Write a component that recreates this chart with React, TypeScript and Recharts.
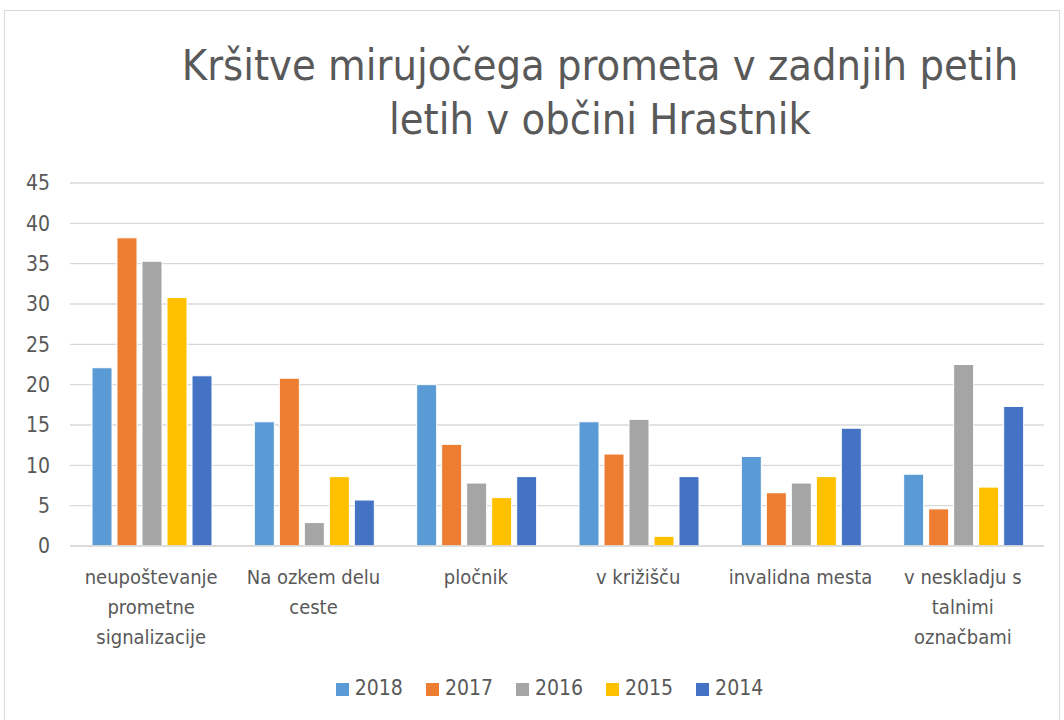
import React from "react";
import { Bar, BarChart, CartesianGrid, Legend, XAxis, YAxis } from "recharts";

const categories = [
  "neupoštevanje prometne signalizacije",
  "Na ozkem delu ceste",
  "pločnik",
  "v križišču",
  "invalidna mesta",
  "v neskladju s talnimi označbami",
];

const v2018 = [22.1, 15.4, 20, 15.4, 11.1, 8.9];
const v2017 = [38.2, 20.8, 12.6, 11.4, 6.6, 4.6];
const v2016 = [35.3, 2.9, 7.8, 15.7, 7.8, 22.5];
const v2015 = [30.8, 8.6, 6, 1.2, 8.6, 7.3];
const v2014 = [21.1, 5.7, 8.6, 8.6, 14.6, 17.3];

const yTicks = [0, 5, 10, 15, 20, 25, 30, 35, 40, 45];

const series = [
  { key: "2018", values: v2018, color: "#5B9BD5" },
  { key: "2017", values: v2017, color: "#ED7D31" },
  { key: "2016", values: v2016, color: "#A5A5A5" },
  { key: "2015", values: v2015, color: "#FFC000" },
  { key: "2014", values: v2014, color: "#4472C4" },
];

const data = categories.map((name, i) => {
  const row: Record<string, string | number> = { name };
  series.forEach((s) => {
    row[s.key] = s.values[i];
  });
  return row;
});

const FONT = "'Liberation Sans Narrow', 'DejaVu Sans Condensed', 'Liberation Sans', sans-serif";
const TEXT = "#595959";

// wrap a label into lines of at most 15 characters, like Excel does here
const wrap = (label: string) => {
  const lines: string[] = [];
  let cur = "";
  label.split(" ").forEach((w) => {
    if (cur && (cur + " " + w).length > 15) {
      lines.push(cur);
      cur = w;
    } else {
      cur = cur ? cur + " " + w : w;
    }
  });
  if (cur) lines.push(cur);
  return lines;
};

const CategoryTick = (props: any) => {
  const { x, y, payload } = props;
  const lines = wrap(payload.value);
  return (
    <text x={x} y={y} textAnchor="middle" fill={TEXT} fontSize={20} fontFamily={FONT}>
      {lines.map((l, i) => (
        <tspan key={i} x={x} dy={i === 0 ? 38 : 30}>
          {l}
        </tspan>
      ))}
    </text>
  );
};

const seriesOrder = (item: any) => series.findIndex((s) => s.key === item.value);

export default function App() {
  return (
    <div
      style={{
        position: "absolute",
        left: 0,
        top: 0,
        width: 1064,
        height: 720,
        overflow: "hidden",
        background: "#fff",
      }}
    >
      <div
        style={{
          position: "absolute",
          left: 4,
          top: 10,
          width: 1056,
          height: 740,
          border: "1px solid #D9D9D9",
          boxSizing: "border-box",
        }}
      />
      <div
        style={{
          position: "absolute",
          left: 0,
          top: 38,
          width: 1200,
          textAlign: "center",
          fontFamily: FONT,
          fontSize: 43,
          lineHeight: "54px",
          color: TEXT,
        }}
      >
        Kršitve mirujočega prometa v zadnjih petih
        <br />
        letih v občini Hrastnik
      </div>
      <div style={{ position: "absolute", left: 0, top: 0 }}>
        <BarChart
          width={1064}
          height={720}
          data={data}
          margin={{ top: 183, right: 20, bottom: 20, left: 0 }}
          barCategoryGap={22}
          barGap={5}
        >
          <CartesianGrid vertical={false} stroke="#D9D9D9" strokeWidth={1.3} />
          <XAxis
            dataKey="name"
            interval={0}
            tickLine={false}
            axisLine={{ stroke: "#D9D9D9", strokeWidth: 1.3 }}
            tickSize={0}
            tickMargin={0}
            height={130}
            tick={<CategoryTick />}
          />
          <YAxis
            width={70}
            domain={[0, 45]}
            ticks={yTicks}
            interval={0}
            tickLine={false}
            axisLine={false}
            tickMargin={14}
            tick={{ fill: TEXT, fontSize: 21, fontFamily: FONT }}
          />
          <Legend
            iconType="square"
            iconSize={13}
            itemSorter={seriesOrder}
            wrapperStyle={{ fontFamily: FONT, fontSize: 21, color: TEXT, left: 39 }}
            formatter={(value) => (
              <span style={{ color: TEXT, marginLeft: 2, marginRight: 13 }}>{value}</span>
            )}
          />
          {series.map((s) => (
            <Bar
              key={s.key}
              dataKey={s.key}
              name={s.key}
              fill={s.color}
              stroke="#ffffff"
              strokeWidth={1}
              isAnimationActive={false}
            />
          ))}
        </BarChart>
      </div>
    </div>
  );
}
